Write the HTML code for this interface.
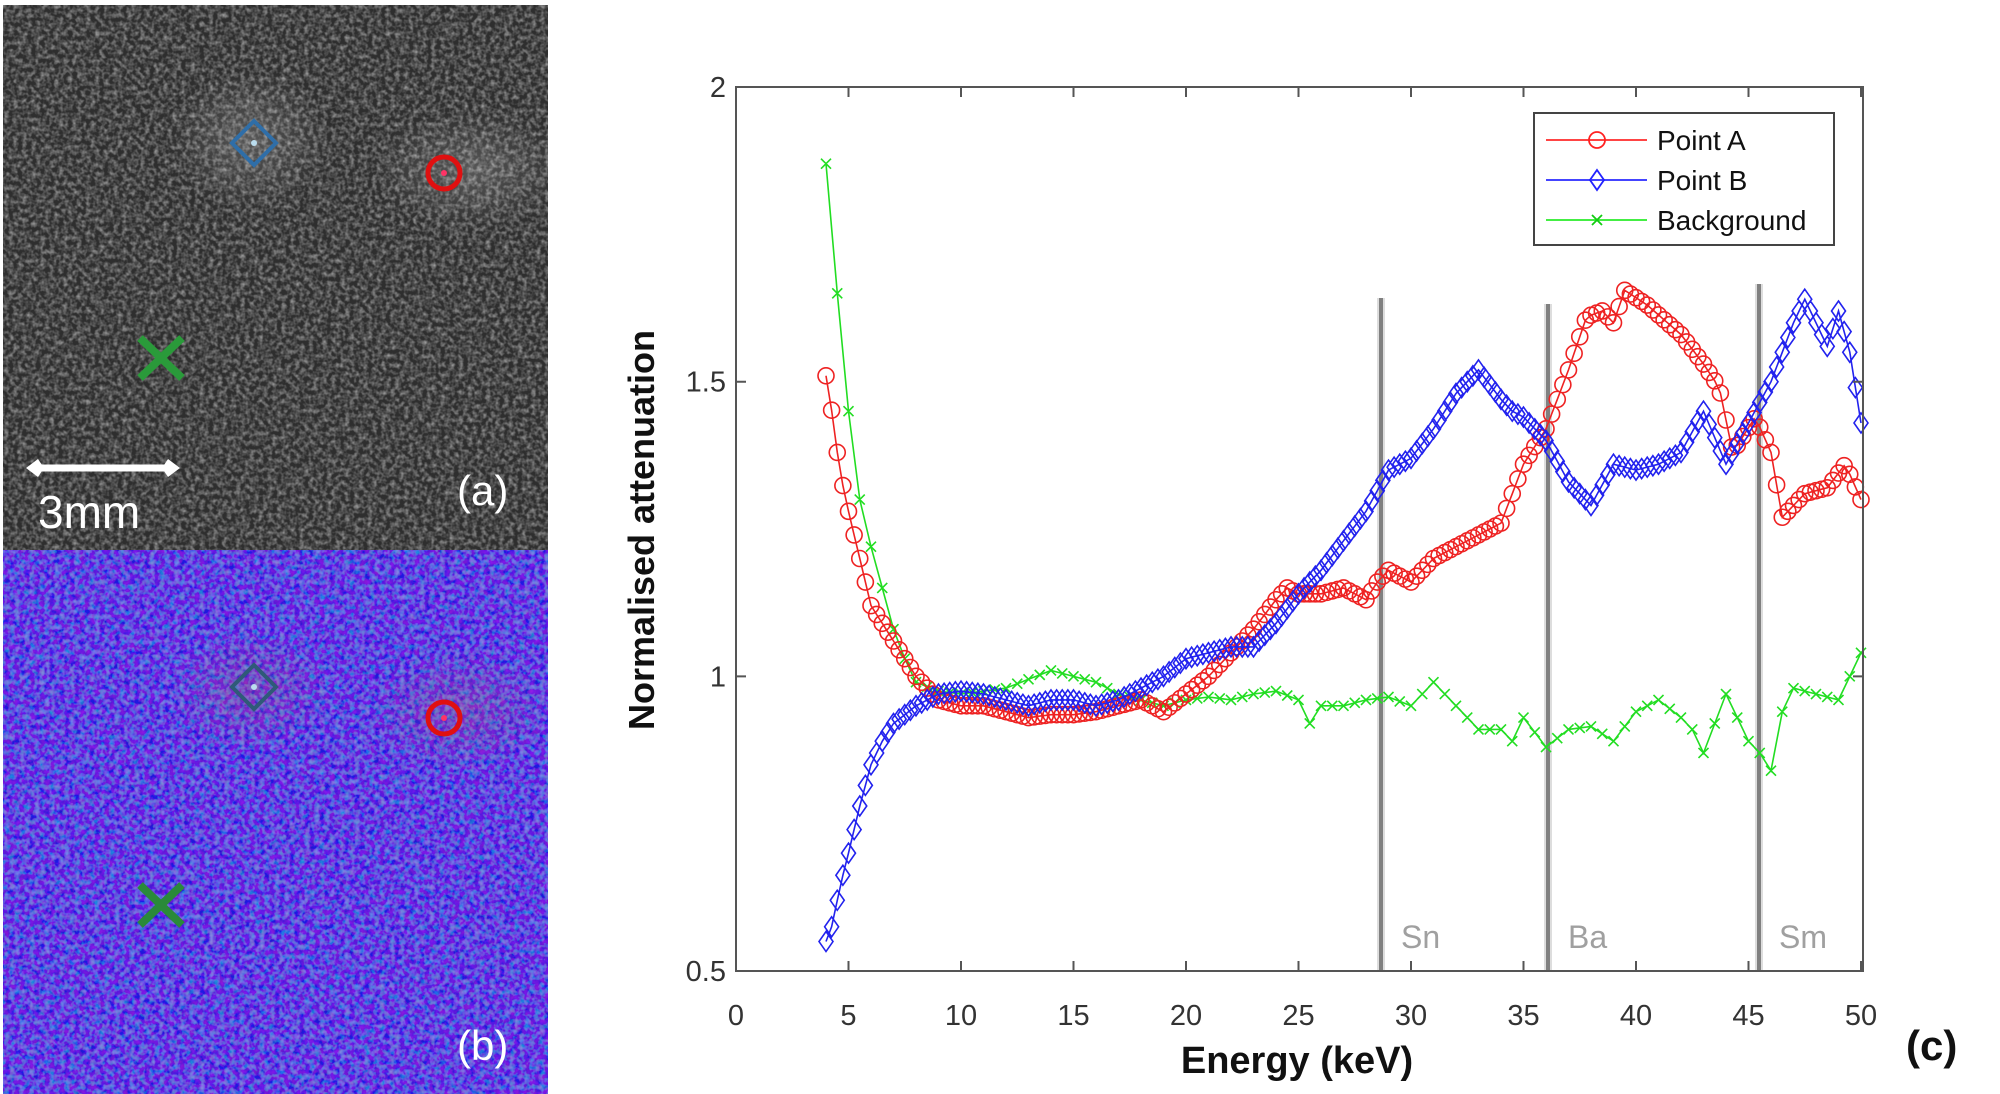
<!DOCTYPE html>
<html><head><meta charset="utf-8"><style>
html,body{margin:0;padding:0;background:#fff;}
svg{display:block;}
</style></head><body>
<svg id="s" width="2000" height="1094" xmlns="http://www.w3.org/2000/svg" font-family="Liberation Sans, sans-serif">
<defs>
<filter id="na" x="0" y="0" width="100%" height="100%">
<feTurbulence type="fractalNoise" baseFrequency="0.22" numOctaves="2" seed="3" result="t"/>
<feColorMatrix in="t" type="matrix" values="0 0 0 0 0  0 0 0 0 0  0 0 0 0 0  1.5 0 0 0 -0.55" result="a"/>
<feFlood flood-color="#b0b0b0"/><feComposite in2="a" operator="in"/>
</filter>
<filter id="nb" x="0" y="0" width="100%" height="100%">
<feTurbulence type="fractalNoise" baseFrequency="0.2" numOctaves="2" seed="7" result="t"/>
<feColorMatrix in="t" type="matrix" values="1.0 0 0 0 -0.3  0 1.5 0 0 -0.65  0 0 0.6 0 0.5  0 0 0 0 0.55"/>
</filter>
<radialGradient id="ga"><stop offset="0" stop-color="#fff" stop-opacity="0.2"/><stop offset="1" stop-color="#fff" stop-opacity="0"/></radialGradient>
<radialGradient id="gb"><stop offset="0" stop-color="#c07060" stop-opacity="0.25"/><stop offset="1" stop-color="#c07060" stop-opacity="0"/></radialGradient>
</defs>
<rect x="3" y="5" width="545" height="545" fill="#2e2e2e"/>
<rect x="3" y="5" width="545" height="545" filter="url(#na)"/>
<ellipse cx="250" cy="140" rx="80" ry="70" fill="url(#ga)"/>
<ellipse cx="470" cy="170" rx="100" ry="60" fill="url(#ga)"/>
<rect x="3" y="550" width="545" height="544" fill="#4436d8"/>
<rect x="3" y="550" width="545" height="544" filter="url(#nb)"/>
<ellipse cx="250" cy="690" rx="80" ry="60" fill="url(#gb)"/>
<ellipse cx="460" cy="710" rx="90" ry="60" fill="url(#gb)"/>
<g fill="none" stroke-width="4">
<path d="M254 121 L276 143 L254 165 L232 143 Z" stroke="#2f6ea8"/>
<circle cx="444" cy="173" r="16" stroke="#e01010" stroke-width="5"/>
<path d="M140 338 L182 378 M182 338 L140 378" stroke="#2a9a3a" stroke-width="8"/>
<path d="M254 665 L276 687 L254 709 L232 687 Z" stroke="#2f5a78"/>
<circle cx="444" cy="718" r="16" stroke="#e01010" stroke-width="5"/>
<path d="M140 885 L182 925 M182 885 L140 925" stroke="#2a8a3a" stroke-width="8"/>
</g>
<circle cx="254" cy="143" r="3" fill="#bde"/><circle cx="444" cy="173" r="3" fill="#f36"/>
<circle cx="254" cy="687" r="3" fill="#bde"/><circle cx="444" cy="718" r="3" fill="#f36"/>
<path d="M34 468 L172 468" stroke="#fff" stroke-width="7"/>
<path d="M26 468 L38 459 L44 468 L38 477 Z M180 468 L168 459 L162 468 L168 477 Z" fill="#fff"/>
<text x="38" y="528" font-size="46" fill="#fff">3mm</text>
<text x="457" y="505" font-size="42" fill="#fff">(a)</text>
<text x="457" y="1060" font-size="42" fill="#fff">(b)</text>
<g id="plot"></g>
<rect x="736" y="87" width="1127" height="884" fill="none" stroke="#555" stroke-width="2"/>
<g id="ticks" stroke="#555" stroke-width="2"></g>
<g font-size="29" fill="#333" id="tl"></g>
<text x="1297" y="1073" font-size="38" font-weight="bold" text-anchor="middle" fill="#111">Energy (keV)</text>
<text transform="translate(654,530) rotate(-90)" font-size="36" font-weight="bold" text-anchor="middle" fill="#111">Normalised attenuation</text>
<text x="1906" y="1060" font-size="42" font-weight="bold" fill="#111">(c)</text>
<rect x="1534" y="113" width="300" height="132" fill="#fff" stroke="#444" stroke-width="2"/>
<path d="M1546 140 H1647" stroke="#f44" stroke-width="2"/><circle cx="1597" cy="140" r="8" fill="none" stroke="#f22" stroke-width="1.8"/>
<path d="M1546 180 H1647" stroke="#44f" stroke-width="2"/><path d="M1597 170 L1604 180 L1597 190 L1590 180 Z" fill="none" stroke="#22f" stroke-width="1.8"/>
<path d="M1546 220 H1647" stroke="#4e4" stroke-width="2"/><path d="M1592 215 L1602 225 M1602 215 L1592 225" stroke="#1c1" stroke-width="1.8"/>
<g font-size="28" fill="#111"><text x="1657" y="150">Point A</text><text x="1657" y="190">Point B</text><text x="1657" y="230">Background</text></g>
</svg>
<script>
var NS="http://www.w3.org/2000/svg";
function X(e){return 736+e*22.5;}function Y(v){return 971-(v-0.5)*589.3;}
function el(t,a,p){var n=document.createElementNS(NS,t);for(var k in a)n.setAttribute(k,a[k]);(p||document.getElementById('plot')).appendChild(n);return n;}
var tk=document.getElementById('ticks'),tl=document.getElementById('tl');
for(var e=0;e<=50;e+=5){el('path',{d:'M'+X(e)+' 971 v-10 M'+X(e)+' 87 v10'},tk);var t=el('text',{x:X(e),y:1025,'text-anchor':'middle'},tl);t.textContent=e;}
[[0.5,'0.5'],[1,'1'],[1.5,'1.5'],[2,'2']].forEach(function(p){el('path',{d:'M736 '+Y(p[0])+' h10 M1863 '+Y(p[0])+' h-10'},tk);var t=el('text',{x:726,y:Y(p[0])+10,'text-anchor':'end'},tl);t.textContent=p[1];});
[[1381,298,'Sn'],[1548,304,'Ba'],[1759,284,'Sm']].forEach(function(l){el('rect',{x:l[0]-4,y:l[1],width:8,height:971-l[1],fill:'#bbb',opacity:0.5});el('rect',{x:l[0]-2,y:l[1],width:4,height:971-l[1],fill:'#808080'});var t=el('text',{x:l[0]+20,y:948,'font-size':32,fill:'#a0a0a0'});t.textContent=l[2];});
var A=[[4,1.51],[4.3,1.44],[4.6,1.35],[5,1.28],[5.5,1.2],[6,1.12],[6.5,1.09],[7,1.06],[8,1.0],[9,0.96],[10,0.95],[11,0.95],[12,0.94],[13,0.93],[14,0.935],[15,0.935],[16,0.94],[17,0.95],[18,0.96],[19,0.94],[20,0.97],[21,1.0],[22,1.04],[23,1.08],[24,1.13],[24.5,1.15],[25,1.14],[26,1.14],[27,1.15],[28,1.13],[28.5,1.16],[29,1.18],[30,1.16],[31,1.2],[32,1.22],[33,1.24],[34,1.26],[35,1.36],[36,1.42],[37,1.52],[37.8,1.61],[38.5,1.62],[39,1.60],[39.5,1.655],[40.5,1.63],[42,1.58],[43,1.53],[43.7,1.49],[44.3,1.38],[45.3,1.44],[46,1.38],[46.5,1.27],[47.5,1.31],[48.5,1.32],[49.3,1.36],[50,1.30]];
var B=[[4,0.55],[4.3,0.58],[4.6,0.64],[5,0.7],[5.5,0.78],[6,0.85],[6.5,0.89],[7,0.92],[8,0.95],[9,0.97],[10,0.975],[11,0.97],[12,0.96],[13,0.95],[14,0.96],[15,0.96],[16,0.95],[17,0.96],[18,0.98],[19,1.0],[20,1.03],[21,1.04],[22,1.05],[23,1.05],[24,1.09],[25,1.14],[26,1.18],[27,1.23],[28,1.28],[29,1.35],[30,1.37],[31,1.42],[32,1.48],[33,1.52],[34,1.47],[34.5,1.45],[35,1.44],[36,1.4],[37,1.33],[38,1.29],[39,1.36],[40,1.35],[41,1.36],[42,1.38],[43,1.45],[44,1.36],[45,1.43],[46,1.5],[47,1.6],[47.5,1.64],[48,1.6],[48.5,1.56],[49,1.62],[49.5,1.55],[50,1.43]];
var G=[[4,1.87],[4.3,1.75],[4.6,1.6],[5,1.45],[5.5,1.3],[6,1.22],[6.5,1.15],[7,1.08],[7.5,1.03],[8,0.99],[9,0.975],[10,0.97],[11,0.975],[12,0.98],[13,0.995],[14,1.01],[15,1.0],[16,0.99],[17,0.97],[18,0.96],[19,0.95],[20,0.96],[21,0.965],[22,0.96],[23,0.97],[24,0.975],[25,0.96],[25.5,0.92],[26,0.95],[27,0.95],[28,0.96],[29,0.965],[30,0.95],[31,0.99],[32,0.95],[33,0.91],[34,0.91],[34.5,0.89],[35,0.93],[36,0.88],[37,0.91],[38,0.915],[39,0.89],[40,0.94],[41,0.96],[42,0.93],[42.5,0.91],[43,0.87],[44,0.97],[45,0.89],[45.5,0.87],[46,0.84],[46.5,0.94],[47,0.98],[48,0.97],[49,0.96],[50,1.04]];
function interp(d,e){for(var i=0;i<d.length-1;i++){if(e<=d[i+1][0]){var f=(e-d[i][0])/(d[i+1][0]-d[i][0]);return d[i][1]+f*(d[i+1][1]-d[i][1]);}}return d[d.length-1][1];}
function series(d,col,step,mk){var pts=[];for(var e=4;e<=50.001;e+=step)pts.push([X(e),Y(interp(d,e))]);
el('polyline',{points:pts.map(function(p){return p[0].toFixed(1)+','+p[1].toFixed(1)}).join(' '),fill:'none',stroke:col,'stroke-width':1.6});
var s='';pts.forEach(function(p){s+=mk(p[0],p[1]);});el('path',{d:s,fill:'none',stroke:col,'stroke-width':1.6});}
series(G,'#22dd22',0.5,function(x,y){return 'M'+(x-5)+' '+(y-5)+'l10 10M'+(x+5)+' '+(y-5)+'l-10 10';});
series(A,'#ee2222',0.25,function(x,y){return 'M'+(x+8)+' '+y+'a8 8 0 1 0 -16 0a8 8 0 1 0 16 0';});
series(B,'#2222ee',0.25,function(x,y){return 'M'+x+' '+(y-10)+'l7 10l-7 10l-7 -10z';});
</script>
</body></html>
